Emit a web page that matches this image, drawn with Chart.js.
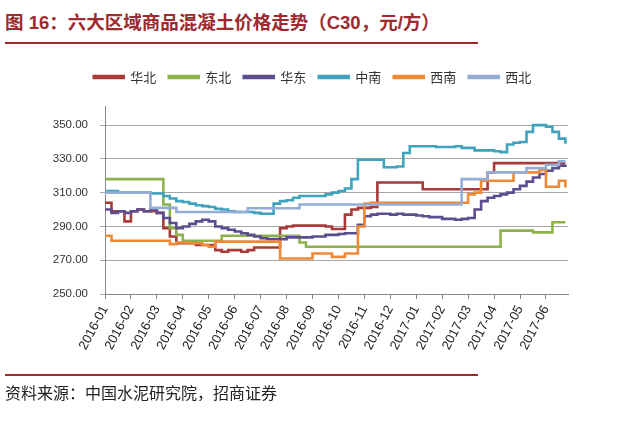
<!DOCTYPE html>
<html lang="zh">
<head>
<meta charset="UTF-8">
<title>六大区域商品混凝土价格走势</title>
<script src="https://cdn.jsdelivr.net/npm/chart.js@4.4.1/dist/chart.umd.min.js"></script>
<style>
  body { margin: 0; width: 640px; height: 429px; background: #fff; position: relative; overflow: hidden; }
  #title { position: absolute; left: 5px; top: 8px; font: bold 18.5px "Liberation Sans", "Noto Sans CJK SC", sans-serif; color: #9c2a2e; white-space: nowrap; }
  .rule { position: absolute; left: 5px; width: 473px; height: 2px; background: #a3282c; }
  #source { position: absolute; left: 5px; top: 380px; font: 16px "Noto Sans CJK SC", sans-serif; color: #222; white-space: nowrap; }
  #wrap { position: absolute; left: 0; top: 50px; width: 640px; height: 330px; }
</style>
</head>
<body>
<div id="title">图 16：六大区域商品混凝土价格走势（C30，元/方）</div>
<div class="rule" style="top:42px"></div>
<div id="wrap"><canvas id="chart"></canvas></div>
<div class="rule" style="top:374px"></div>
<div id="source">资料来源：中国水泥研究院，招商证券</div>

<script>
// month tick labels; data sampled every quarter month from 2016-01
const months = ['2016-01','2016-02','2016-03','2016-04','2016-05','2016-06','2016-07','2016-08','2016-09',
                '2016-10','2016-11','2016-12','2017-01','2017-02','2017-03','2017-04','2017-05','2017-06'];
const yTicks = [250, 270, 290, 310, 330, 350];
const seriesNames = ['华北','东北','华东','中南','西南','西北'];

const huabei = [304,299,299,293,299,300,299,299,298,289,284,280,280,280,279,279,279,276,275,276,276,275,276,277.5,
  277.5,277.5,277.5,289,290,290.5,290.5,290.5,290.5,290.5,290,288.5,288.5,297,300,301,301,301.5,316,316,316,316,
  316,316,316,312,312,312,312,312,312,312,312,312,312,322,327.5,327.5,327.5,327.5,327.5,327.5,327.5,327.5,327.5,
  327.5,327.5,327.5];
const dongbei = [318,318,318,318,318,318,318,318,318,303,289,285,281.5,281.5,281.5,281.5,281.5,281.5,284.5,284.5,
  284.5,284.5,284.5,284.5,284.5,284.5,284.5,284.5,284.5,284.5,280.5,278,278,278,278,278,278,278,278,278,278,278,
  278,278,278,278,278,278,278,278,278,278,278,278,278,278,278,278,278,278,278,287.5,287.5,287.5,287.5,287.5,286.5,
  286.5,286.5,292.5,292.5,292.5];
const huadong = [300,298,299,298,299,300,299,300,298,295,292,289,290,291.5,293,294,293,290,289,288,287,286,285,284,
  283,282.5,282.5,282.5,283.5,283.5,283.5,283.5,284,284,285,285,285.5,286,286,291,296,297,297.5,297.5,297,297.5,
  297,297,296.5,296,295.5,295.5,294.5,294.5,294,294.5,295,300,305,307,308,309,310,312,314,316.5,319,321,323,324.5,
  326,326.5];
const zhongnan = [311,311,310,310,310,310,310,309.5,309.5,308,306.5,305,304.5,303.5,302.5,302,301.5,300.5,300,299,
  298.5,298.5,298.5,298,297.5,297.5,303.5,305,305.5,307,308,308,308,308,309,310,311,312.5,318,329.5,329.5,329.5,
  329.5,325,325,325.5,333.5,337.5,337.5,337.5,337.5,337,337,337,337.5,336.5,336.5,335,335,335,334.5,334,338.5,
  339.5,340,346,350,350,349,346,342,339];
const xinan = [284.5,281.5,281.5,281.5,281.5,281.5,281.5,281.5,281.5,281.5,279.5,280.5,280.5,280,280,279,278,281,
  281,281,281,281,281,281,281,281,281,271,271,271,271,271,274,274,274,272,272,274,274,290,303.5,304,304,304,304,
  304,304,304,304,304,304,304,304,304,304,304,309,310,317,317,317,317,317,322,322,322,322,323.5,313.5,313.5,317,
  313];
const xibei = [310,310,310,310,310,310,310,301,301,301,301,298.5,298.5,298.5,298.5,298.5,298.5,298.5,298.5,298.5,
  298.5,298.5,300.8,300.8,300.8,300.8,300.8,300.8,300.8,300.8,303,303,303,303,303,303,303,303,303,303,303,303,303,
  303,303,303,303,303,303,303,303,303,303,303,303,318,318,318,318,322,322,322,322,322,322,324.5,324.5,324.5,326.5,
  326.5,328.5,328.5];

const seriesValues = [huabei, dongbei, huadong, zhongnan, xinan, xibei];
const colors = ['#a93a3a', '#8db24c', '#5d4c8e', '#3fa3bd', '#ee8a35', '#93add6'];

const datasets = seriesNames.map((name, k) => ({
  label: name,
  data: seriesValues[k].map((v, i) => ({ x: i / 4, y: v })),
  borderColor: colors[k],
  backgroundColor: colors[k],
  borderWidth: 2.6,
  pointRadius: 0,
  stepped: true,
  order: 5 - k   // later series drawn on top, like the original
}));

// extra gap under the legend, and shift it right so it sits where the original has it
const legendTweak = {
  id: 'legendTweak',
  beforeInit(chart) {
    const fit = chart.legend.fit;
    chart.legend.fit = function () {
      fit.bind(chart.legend)();
      this.height += 13;
    };
  },
  afterUpdate(chart) {
    chart.legend.left += 57;
    chart.legend.adjustHitBoxes();
  }
};

new Chart(document.getElementById('chart'), {
  type: 'line',
  data: { datasets: datasets },
  plugins: [legendTweak],
  options: {
    responsive: true,
    maintainAspectRatio: false,
    animation: false,
    layout: { padding: { left: 0, right: 72, top: 8, bottom: 0 } },
    plugins: {
      legend: {
        position: 'top',
        labels: {
          boxWidth: 30,
          boxHeight: 2,
          padding: 12.5,
          color: '#333',
          font: { family: '"Noto Sans CJK SC", sans-serif', size: 13 },
          sort: (a, b) => a.datasetIndex - b.datasetIndex
        }
      },
      tooltip: { enabled: false }
    },
    scales: {
      x: {
        type: 'linear',
        min: 0,
        max: 17.85,
        afterBuildTicks: axis => { axis.ticks = months.map((m, i) => ({ value: i })); },
        afterFit: axis => { axis.height = 86; },
        ticks: {
          autoSkip: false,
          minRotation: 62,
          maxRotation: 62,
          padding: 4,
          color: '#222',
          font: { family: '"Liberation Sans", sans-serif', size: 13 },
          callback: v => months[v]
        },
        grid: { drawOnChartArea: false, color: '#888', tickLength: 5 },
        border: { color: '#888' }
      },
      y: {
        min: 250,
        max: 361,
        afterBuildTicks: axis => { axis.ticks = yTicks.map(v => ({ value: v })); },
        afterFit: axis => { axis.width = 105; },
        ticks: {
          padding: 12,
          color: '#333',
          font: { family: '"Liberation Sans", sans-serif', size: 11.5 },
          callback: v => v.toFixed(2)
        },
        grid: { color: '#a6a6a6', tickLength: 5 },
        border: { color: '#888' }
      }
    }
  }
});
</script>
</body>
</html>
